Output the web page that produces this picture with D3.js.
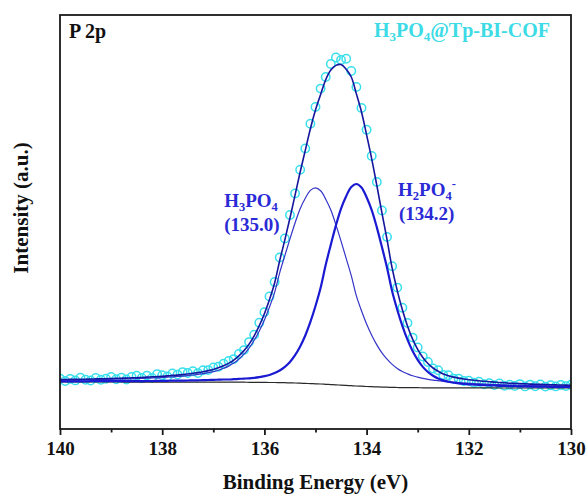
<!DOCTYPE html>
<html>
<head>
<meta charset="utf-8">
<script src="https://cdn.jsdelivr.net/npm/d3@7"></script>
<style>
  html, body { margin: 0; padding: 0; background: #ffffff; }
  svg { display: block; }
  text { font-family: "Liberation Serif", "Times New Roman", serif; font-weight: bold; }
</style>
</head>
<body>
<svg id="chart" width="587" height="496"></svg>
<script>
// Binding-energy grid of the P 2p scan (eV), high to low
const energyStart = 140.0;
const energyStep = 0.1;

// Measured counts (a.u.)
const intensity = [
  50.4, 48.0, 50.1, 48.6, 51.2, 49.3, 48.5, 51.1, 49.2, 50.3,
  52.0, 49.7, 51.3, 49.5, 52.1, 53.3, 51.0, 53.4, 51.1, 54.9,
  53.7, 52.6, 55.6, 54.4, 56.9, 56.0, 57.7, 55.9, 58.8, 58.9,
  61.6, 62.2, 65.3, 68.1, 69.9, 75.1, 78.9, 86.9, 94.2, 106.3,
  116.8, 132.5, 147.0, 171.5, 190.6, 214.0, 235.5, 259.3, 280.6, 305.3,
  322.0, 340.4, 352.0, 365.0, 371.5, 369.0, 370.2, 358.0, 342.1, 321.0,
  299.2, 273.0, 247.0, 218.5, 192.0, 162.8, 141.4, 121.2, 106.1, 91.4,
  81.6, 72.5, 67.0, 60.5, 58.7, 54.1, 53.8, 50.4, 50.4, 48.0,
  48.3, 46.2, 47.2, 44.7, 45.8, 43.9, 45.5, 43.2, 44.3, 43.1,
  44.9, 42.6, 44.4, 42.7, 44.6, 42.4, 43.7, 42.6, 44.0, 42.9,
  44.2
];

// Shirley background
const background = [
  47.0, 47.0, 47.0, 47.0, 47.0, 47.0, 47.0, 47.0, 47.0, 47.0,
  47.0, 47.0, 47.0, 46.9, 46.9, 46.9, 46.9, 46.9, 46.9, 46.9,
  46.9, 46.9, 46.9, 46.9, 46.9, 46.9, 46.9, 46.9, 46.9, 46.9,
  46.9, 46.9, 46.9, 46.8, 46.8, 46.8, 46.8, 46.7, 46.7, 46.7,
  46.6, 46.5, 46.5, 46.4, 46.3, 46.1, 46.0, 45.8, 45.6, 45.4,
  45.2, 45.0, 44.7, 44.4, 44.1, 43.9, 43.6, 43.3, 43.0, 42.8,
  42.5, 42.3, 42.1, 41.9, 41.8, 41.6, 41.5, 41.4, 41.4, 41.3,
  41.3, 41.2, 41.2, 41.2, 41.2, 41.1, 41.1, 41.1, 41.1, 41.1,
  41.1, 41.1, 41.1, 41.1, 41.1, 41.1, 41.0, 41.0, 41.0, 41.0,
  41.0, 41.0, 41.0, 41.0, 41.0, 41.0, 41.0, 41.0, 41.0, 41.0,
  41.0
];

// Fitted component: H3PO4 at 135.0 eV (above background)
const fitH3PO4 = [
  1.7, 1.8, 1.9, 1.9, 2.0, 2.1, 2.2, 2.3, 2.4, 2.5,
  2.7, 2.8, 2.9, 3.1, 3.3, 3.4, 3.6, 3.9, 4.1, 4.3,
  4.6, 4.9, 5.3, 5.6, 6.0, 6.5, 7.1, 7.7, 8.5, 9.4,
  10.5, 11.9, 13.8, 16.1, 19.1, 23.0, 28.0, 34.2, 42.0, 51.4,
  62.5, 75.5, 90.1, 110.0, 127.0, 144.0, 160.0, 174.5, 185.1, 193.2,
  196.0, 193.2, 185.1, 174.5, 160.0, 144.0, 127.0, 110.0, 90.1, 75.5,
  62.5, 51.4, 42.0, 34.2, 28.0, 23.0, 19.1, 16.1, 13.8, 11.9,
  10.5, 9.4, 8.5, 7.7, 7.1, 6.5, 6.0, 5.6, 5.3, 4.9,
  4.6, 4.3, 4.1, 3.9, 3.6, 3.4, 3.3, 3.1, 2.9, 2.8,
  2.7, 2.5, 2.4, 2.3, 2.2, 2.1, 2.0, 1.9, 1.9, 1.8,
  1.7
];

// Fitted component: H2PO4- at 134.2 eV (above background)
const fitH2PO4 = [
  0.7, 0.7, 0.7, 0.7, 0.7, 0.7, 0.8, 0.8, 0.8, 0.8,
  0.8, 0.9, 0.9, 0.9, 0.9, 1.0, 1.0, 1.1, 1.1, 1.2,
  1.2, 1.3, 1.4, 1.4, 1.5, 1.6, 1.7, 1.8, 1.9, 2.1,
  2.2, 2.4, 2.6, 2.7, 3.0, 3.3, 3.6, 4.0, 4.5, 5.2,
  6.2, 7.5, 9.4, 12.1, 15.8, 20.9, 27.8, 36.7, 47.9, 61.7,
  77.8, 96.2, 119.5, 140.0, 159.5, 176.5, 189.2, 198.7, 202.0, 198.7,
  189.2, 176.5, 159.5, 140.0, 119.5, 96.2, 77.8, 61.7, 47.9, 36.7,
  27.8, 20.9, 15.8, 12.1, 9.4, 7.5, 6.2, 5.2, 4.5, 4.0,
  3.6, 3.3, 3.0, 2.7, 2.6, 2.4, 2.2, 2.1, 1.9, 1.8,
  1.7, 1.6, 1.5, 1.4, 1.4, 1.3, 1.2, 1.2, 1.1, 1.1,
  1.0
];

// Axis ticks
const majorTicks = [140, 138, 136, 134, 132, 130];
const minorTicks = [139, 137, 135, 133, 131];

const energy = intensity.map((_, i) => +(energyStart - i * energyStep).toFixed(1));

const plot = { left: 60, right: 571, top: 15, bottom: 429 };

const svg = d3.select("#chart");

const x = d3.scaleLinear().domain([140, 130]).range([plot.left, plot.right]);
const y = d3.scaleLinear().domain([0, 414]).range([plot.bottom, plot.top]);

svg.append("defs").append("clipPath").attr("id", "plot-clip")
  .append("rect")
  .attr("x", plot.left).attr("y", plot.top)
  .attr("width", plot.right - plot.left).attr("height", plot.bottom - plot.top);

const g = svg.append("g").attr("clip-path", "url(#plot-clip)");

// Raw data as hollow circles
g.selectAll("circle.pt")
  .data(intensity)
  .join("circle")
  .attr("class", "pt")
  .attr("cx", (d, i) => x(energy[i]))
  .attr("cy", d => y(d))
  .attr("r", 4.2)
  .attr("fill", "none")
  .attr("stroke", "#38dfec")
  .attr("stroke-width", 1.5);

const line = d3.line()
  .x((d, i) => x(energy[i]))
  .y(d => y(d))
  .curve(d3.curveCatmullRom.alpha(0.5));

const compA = fitH3PO4.map((v, i) => background[i] + v);
const compB = fitH2PO4.map((v, i) => background[i] + v);
const envelope = background.map((b, i) => b + fitH3PO4[i] + fitH2PO4[i]);

g.append("path").datum(background).attr("d", line)
  .attr("fill", "none").attr("stroke", "#2a2a2a").attr("stroke-width", 1.2);

g.append("path").datum(compA).attr("d", line)
  .attr("fill", "none").attr("stroke", "#3434c8").attr("stroke-width", 1.2);

g.append("path").datum(compB).attr("d", line)
  .attr("fill", "none").attr("stroke", "#1a1ad2").attr("stroke-width", 2.2);

g.append("path").datum(envelope).attr("d", line)
  .attr("fill", "none").attr("stroke", "#15159e").attr("stroke-width", 1.6);

// Frame
svg.append("rect")
  .attr("x", plot.left).attr("y", plot.top)
  .attr("width", plot.right - plot.left).attr("height", plot.bottom - plot.top)
  .attr("fill", "none").attr("stroke", "#1a1a1a").attr("stroke-width", 1.8);

// Bottom axis: major ticks with labels, minor ticks without
const xAxis = d3.axisBottom(x).tickValues(majorTicks).tickSize(6).tickPadding(7)
  .tickFormat(d3.format("d"));
const axisG = svg.append("g").attr("transform", `translate(0,${plot.bottom})`).call(xAxis);
axisG.select(".domain").remove();
axisG.selectAll(".tick line").attr("stroke", "#1a1a1a").attr("stroke-width", 1.8);
axisG.selectAll(".tick text")
  .attr("font-family", "Liberation Serif, serif")
  .attr("font-weight", "bold")
  .attr("font-size", 19)
  .attr("fill", "#111");

const minorAxis = d3.axisBottom(x).tickValues(minorTicks).tickSize(3.5).tickFormat("");
const minorG = svg.append("g").attr("transform", `translate(0,${plot.bottom})`).call(minorAxis);
minorG.select(".domain").remove();
minorG.selectAll(".tick line").attr("stroke", "#1a1a1a").attr("stroke-width", 1.8);

// Axis titles
svg.append("text")
  .attr("x", (plot.left + plot.right) / 2).attr("y", 489)
  .attr("text-anchor", "middle").attr("font-size", 21).attr("fill", "#111")
  .text("Binding Energy (eV)");

svg.append("text")
  .attr("transform", "translate(28,208) rotate(-90)")
  .attr("text-anchor", "middle").attr("font-size", 21).attr("fill", "#111")
  .text("Intensity (a.u.)");

// Panel label
svg.append("text")
  .attr("x", 69).attr("y", 38)
  .attr("font-size", 20).attr("fill", "#111")
  .text("P 2p");

// Sample name
const sample = svg.append("text")
  .attr("x", 550).attr("y", 37)
  .attr("text-anchor", "end").attr("font-size", 20).attr("fill", "#3ddbe6");
sample.append("tspan").text("H");
sample.append("tspan").attr("font-size", 13).attr("dy", 4).text("3");
sample.append("tspan").attr("dy", -4).text("PO");
sample.append("tspan").attr("font-size", 13).attr("dy", 4).text("4");
sample.append("tspan").attr("dy", -4).text("@Tp-BI-COF");

// Peak labels
const blue = "#2a2ad6";
const lab1 = svg.append("text").attr("x", 251).attr("y", 207)
  .attr("text-anchor", "middle").attr("font-size", 19).attr("fill", blue);
lab1.append("tspan").text("H");
lab1.append("tspan").attr("font-size", 12.5).attr("dy", 4).text("3");
lab1.append("tspan").attr("dy", -4).text("PO");
lab1.append("tspan").attr("font-size", 12.5).attr("dy", 4).text("4");

svg.append("text").attr("x", 252).attr("y", 231)
  .attr("text-anchor", "middle").attr("font-size", 19).attr("fill", blue)
  .text("(135.0)");

const lab2 = svg.append("text").attr("x", 398).attr("y", 196)
  .attr("font-size", 19).attr("fill", blue);
lab2.append("tspan").text("H");
lab2.append("tspan").attr("font-size", 12.5).attr("dy", 4).text("2");
lab2.append("tspan").attr("dy", -4).text("PO");
lab2.append("tspan").attr("font-size", 12.5).attr("dy", 4).text("4");
lab2.append("tspan").attr("font-size", 12.5).attr("dy", -12).text("-");

svg.append("text").attr("x", 399).attr("y", 220)
  .attr("font-size", 19).attr("fill", blue)
  .text("(134.2)");
</script>
</body>
</html>
